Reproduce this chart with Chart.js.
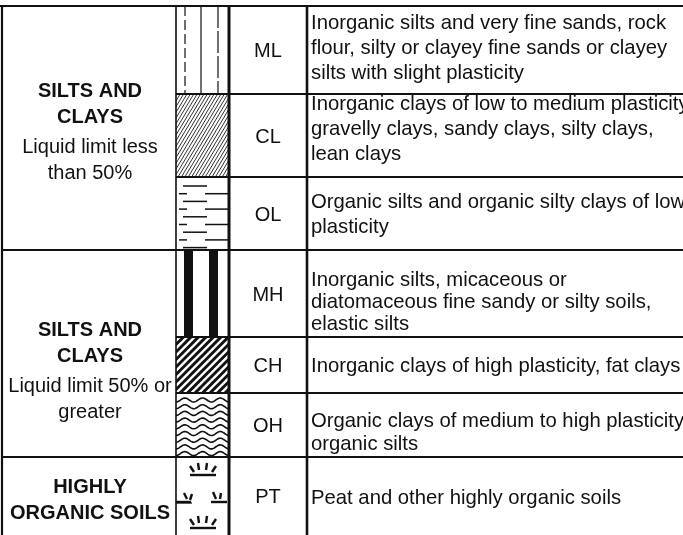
<!DOCTYPE html>
<html>
<head>
<meta charset="utf-8">
<script src="https://cdn.jsdelivr.net/npm/chart.js@4.4.0/dist/chart.umd.min.js"></script>
<style>
  html, body { margin: 0; padding: 0; background: #fff; }
  #chart { display: block; }
</style>
</head>
<body>
<canvas id="chart" width="683" height="535"></canvas>
<script>
// Left column: soil groups
const groupTitles = [["SILTS AND", "CLAYS"], ["SILTS AND", "CLAYS"], ["HIGHLY", "ORGANIC SOILS"]];
const groupNotes = [["Liquid limit less", "than 50%"], ["Liquid limit 50% or", "greater"], []];
const groupRows = [[0, 2], [3, 5], [6, 6]]; // first / last soil row in each group

// Soil rows
const symbols = ["ML", "CL", "OL", "MH", "CH", "OH", "PT"];
const patterns = ["lines", "fineHatch", "dashes", "bars", "hatch", "waves", "grass"];
const descriptions = [
  ["Inorganic silts and very fine sands, rock", "flour, silty or clayey fine sands or clayey", "silts with slight plasticity"],
  ["Inorganic clays of low to medium plasticity,", "gravelly clays, sandy clays, silty clays,", "lean clays"],
  ["Organic silts and organic silty clays of low", "plasticity"],
  ["Inorganic silts, micaceous or", "diatomaceous fine sandy or silty soils,", "elastic silts"],
  ["Inorganic clays of high plasticity, fat clays"],
  ["Organic clays of medium to high plasticity,", "organic silts"],
  ["Peat and other highly organic soils"]
];

// table grid, in table units
const colEdges = [2, 176, 229, 307, 700];
const rowEdges = [6, 94, 177, 250, 337, 393, 457, 535];
// small vertical nudges so text sits like the scan
const descShift = [-3, -8, 0, 7, 0, 6, 1];
const descGap = [25, 25, 25, 22, 25, 23, 25];
const groupShift = [3, 16, 3];

const INK = '#111';
const FONT = '"Liberation Sans", Arial, Helvetica, sans-serif';

function drawPattern(ctx, kind, x0, y0, x1, y1) {
  const w = x1 - x0, h = y1 - y0;
  ctx.save();
  ctx.beginPath();
  ctx.rect(x0, y0, w, h);
  ctx.clip();
  ctx.strokeStyle = INK;
  ctx.fillStyle = INK;
  if (kind === 'lines') {
    ctx.lineWidth = 1.2;
    [[9, [10, 4]], [25, []], [42, [22, 3]]].forEach(([dx, dash]) => {
      ctx.setLineDash(dash);
      ctx.beginPath();
      ctx.moveTo(x0 + dx, y0);
      ctx.lineTo(x0 + dx, y1);
      ctx.stroke();
    });
    ctx.setLineDash([]);
  } else if (kind === 'fineHatch') {
    ctx.lineWidth = 1;
    ctx.strokeStyle = '#333';
    for (let t = -h; t < w + 4; t += 3.4) {
      ctx.beginPath();
      ctx.moveTo(x0 + t, y1);
      ctx.lineTo(x0 + t + h * 0.6, y0);
      ctx.stroke();
    }
  } else if (kind === 'dashes') {
    ctx.lineWidth = 1.5;
    let k = 0;
    for (let y = y0 + 9; y < y1 - 2; y += 7.7, k++) {
      const segs = k % 2 === 0 ? [[7, 31]] : [[3, 11], [29, 52]];
      segs.forEach(([a, b]) => {
        ctx.beginPath();
        ctx.moveTo(x0 + a, y);
        ctx.lineTo(x0 + b, y);
        ctx.stroke();
      });
    }
  } else if (kind === 'bars') {
    ctx.fillRect(x0 + 8, y0, 9, h);
    ctx.fillRect(x0 + 33, y0, 9, h);
  } else if (kind === 'hatch') {
    ctx.lineWidth = 3;
    for (let t = -h; t < w + 8; t += 7.5) {
      ctx.beginPath();
      ctx.moveTo(x0 + t, y1);
      ctx.lineTo(x0 + t + h, y0);
      ctx.stroke();
    }
  } else if (kind === 'waves') {
    ctx.lineWidth = 1.6;
    for (let y = y0 + 7; y < y1 - 2; y += 6.7) {
      ctx.beginPath();
      for (let x = 0; x <= w; x += 1) {
        const yy = y + 2 * Math.cos((x / 17.7) * 2 * Math.PI);
        if (x === 0) ctx.moveTo(x0 + x, yy); else ctx.lineTo(x0 + x, yy);
      }
      ctx.stroke();
    }
  } else if (kind === 'grass') {
    ctx.lineWidth = 2.4;
    const tuft = (cx, by, half, parts) => {
      ctx.beginPath();
      ctx.moveTo(cx - half, by);
      ctx.lineTo(cx + half, by);
      ctx.stroke();
      parts.forEach(([dx, dy, ex, ey]) => {
        ctx.beginPath();
        ctx.moveTo(cx + dx, by + dy);
        ctx.lineTo(cx + ex, by + ey);
        ctx.stroke();
      });
    };
    const full = [[-13, -9, -9, -3], [-5, -12, -4, -5], [4, -12, 3, -5], [13, -9, 9, -3]];
    tuft(x0 + 27, y0 + 18, 13, full);
    tuft(x0 + 7, y0 + 45, 8, [[1, -9, 4, -3], [9, -8, 7, -2]]);
    tuft(x0 + 43, y0 + 45, 8, [[-6, -10, -3, -3], [2, -9, 1, -3]]);
    tuft(x0 + 27, y0 + 71, 13, full);
    ctx.lineWidth = 1.2;
    ctx.beginPath();
    ctx.moveTo(x0, y0 + 46);
    ctx.lineTo(x0 + 16, y0 + 46);
    ctx.stroke();
  }
  ctx.restore();
}

function hLine(ctx, xa, xb, y, lw) {
  ctx.lineWidth = lw;
  ctx.beginPath();
  ctx.moveTo(xa, y);
  ctx.lineTo(xb, y);
  ctx.stroke();
}
function vLine(ctx, x, ya, yb, lw) {
  ctx.lineWidth = lw;
  ctx.beginPath();
  ctx.moveTo(x, ya);
  ctx.lineTo(x, yb);
  ctx.stroke();
}

const tablePlugin = {
  id: 'soilTable',
  beforeDraw(chart) {
    const ctx = chart.ctx;
    ctx.save();
    ctx.fillStyle = '#fff';
    ctx.fillRect(0, 0, chart.width, chart.height);
    ctx.restore();
  },
  afterDraw(chart) {
    const ctx = chart.ctx;
    const X = v => chart.scales.x.getPixelForValue(v);
    const Y = v => chart.scales.y.getPixelForValue(v);
    const cx = colEdges.map(X);
    const ry = rowEdges.map(Y);

    ctx.save();
    // pattern cells
    symbols.forEach((s, i) => drawPattern(ctx, patterns[i], cx[1], ry[i], cx[2], ry[i + 1]));

    ctx.strokeStyle = INK;
    // top and left border
    hLine(ctx, 0, chart.width, ry[0], 2.2);
    vLine(ctx, cx[0], ry[0], chart.height, 2.2);
    // column lines
    vLine(ctx, cx[1], ry[0], chart.height, 1.6);
    vLine(ctx, cx[2], ry[0], chart.height, 3);
    vLine(ctx, cx[3], ry[0], chart.height, 2.6);
    // row lines
    for (let i = 1; i < symbols.length; i++) {
      const groupEdge = groupRows.some(g => g[0] === i);
      hLine(ctx, groupEdge ? cx[0] : cx[1], cx[4], ry[i], 1.8);
    }

    // group labels
    ctx.fillStyle = INK;
    ctx.textAlign = 'center';
    ctx.textBaseline = 'alphabetic';
    groupTitles.forEach((title, g) => {
      const top = ry[groupRows[g][0]], bot = ry[groupRows[g][1] + 1];
      const notes = groupNotes[g];
      const span = (title.length - 1) * 26 + (notes.length ? 30 + (notes.length - 1) * 26 : 0);
      let y = (top + bot) / 2 - span / 2 + groupShift[g];
      const mid = (cx[0] + cx[1]) / 2 + 1;
      ctx.font = 'bold 20px ' + FONT;
      title.forEach((t, k) => { ctx.fillText(t, mid, y + 7 + k * 26); });
      y += (title.length - 1) * 26 + 30;
      ctx.font = '20px ' + FONT;
      notes.forEach((t, k) => { ctx.fillText(t, mid, y + 7 + k * 26); });
    });

    // symbols and descriptions
    symbols.forEach((s, i) => {
      const mid = (ry[i] + ry[i + 1]) / 2;
      ctx.font = '20px ' + FONT;
      ctx.textAlign = 'center';
      ctx.fillText(s, (cx[2] + cx[3]) / 2, mid + 7);
      ctx.textAlign = 'left';
      ctx.font = '20.3px ' + FONT;
      const lines = descriptions[i];
      const gap = descGap[i];
      const first = mid - (lines.length - 1) * gap / 2 + descShift[i];
      lines.forEach((t, k) => ctx.fillText(t, cx[3] + 4, first + k * gap + 7));
    });
    ctx.restore();
  }
};

const chart = new Chart(document.getElementById('chart'), {
  type: 'scatter',
  data: { datasets: [] },
  options: {
    responsive: false,
    animation: false,
    layout: { padding: 0 },
    plugins: { legend: { display: false }, tooltip: { enabled: false } },
    scales: {
      x: { type: 'linear', min: 0, max: 683, display: false },
      y: { type: 'linear', min: 0, max: 535, reverse: true, display: false }
    }
  },
  plugins: [tablePlugin]
});
</script>
</body>
</html>
